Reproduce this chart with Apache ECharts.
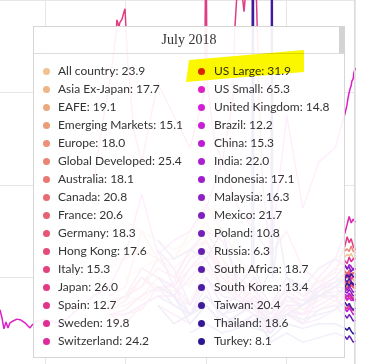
<!DOCTYPE html>
<html>
<head>
<meta charset="utf-8">
<script src="https://cdn.jsdelivr.net/npm/echarts@6/dist/echarts.min.js"></script>
<style>
html,body{margin:0;padding:0;background:#fff;overflow:hidden;}
#wrap{position:relative;width:380px;height:364px;overflow:hidden;}
#chart{position:absolute;left:-36px;top:-185px;width:416px;height:555px;}
</style>
</head>
<body>
<div id="wrap"><div id="chart"></div></div>
<script>
// ---- data (decimal years; July 2018 = 2018.5) ----
const years = [1988,1990,1992,1994,1996,1998,2000,2002,2004,2006,2008,2010,2012,2014,2016,2017.25,2017.5,2017.75,2018,2018.25,2018.5];

const names = ["All country","Asia Ex-Japan","EAFE","Emerging Markets","Europe","Global Developed","Australia","Canada","France","Germany","Hong Kong","Italy","Japan","Spain","Sweden","Switzerland","US Large","US Small","United Kingdom","Brazil","China","India","Indonesia","Malaysia","Mexico","Poland","Russia","South Africa","South Korea","Taiwan","Thailand","Turkey"];

const colors = ["#f2c18f","#f0b487","#eea880","#ed9c7a","#ec9077","#ea8474","#e97873","#e76c72","#e66173","#e45675","#e34c78","#e2437d","#e13b83","#e0348b","#df2e94","#de2a9f","#dd26ad","#dc20c6","#d41ed6","#c81ed6","#bb1ed3","#ad1ecf","#9e1fca","#8f20c4","#8020be","#7220b8","#6520b2","#581eab","#4b1ca4","#3f1a9d","#341896","#2a1890"];

const allCountry      = [22,24,26,24,24,28,35,30,24,20,14,18,16,19,22, 24.5,25.0,24.6,25.2,24.2,23.9];
const asiaExJapan     = [null,20,22,24,21,18,28,22,18,16,11,16,13,15,16, 17.5,18.2,17.8,18.6,18.0,17.7];
const eafe            = [30,32,30,28,26,28,32,26,22,18,12,16,15,17,19, 20.2,19.8,20.4,20.0,19.5,19.1];
const emergingMarkets = [null,null,null,20,18,15,22,16,15,14,9,14,12,13,14, 15.5,16.2,15.8,16.5,15.4,15.1];
const europe          = [14,16,15,18,17,22,26,20,17,14,9,14,13,16,18, 19.0,18.6,19.2,18.4,18.2,18.0];
const globalDeveloped = [24,24,26,24,24,30,36,30,24,20,14,18,16,20,24, 25.8,26.2,25.6,26.8,25.7,25.4];
const australia       = [14,16,20,18,17,19,22,20,18,16,11,15,14,17,20, 18.8,18.3,19.2,18.6,18.4,18.1];
const canada          = [16,18,30,24,22,25,30,24,20,17,12,18,16,19,22, 21.4,20.6,21.2,20.3,21.0,20.8];
const france          = [13,14,16,20,18,24,28,20,16,14,9,13,12,16,19, 21.2,20.8,21.6,20.7,21.0,20.6];
const germany         = [15,16,18,22,20,26,30,24,18,14,10,16,13,15,18, 19.2,18.6,19.4,18.6,18.8,18.3];
const hongKong        = [12,10,14,16,16,14,22,18,16,14,9,14,12,13,15, 17.2,18.0,17.5,18.4,17.8,17.6];
const italy           = [14,16,18,24,20,26,28,22,16,14,8,14,12,18,16, 15.8,15.0,16.2,15.4,15.6,15.3];
const japan           = [62,null,45,62,55,48,null,45,null,null,25,30,22,19,21, 27.0,28.8,27.5,28.4,26.8,26.0];
const spain           = [12,12,13,18,16,22,24,18,15,14,8,12,10,16,15, 13.6,13.2,14.0,13.0,12.9,12.7];
const sweden          = [14,16,22,20,18,22,26,20,16,14,10,16,14,18,19, 20.6,20.0,20.8,19.6,20.2,19.8];
const switzerland     = [12,13,16,18,18,24,26,22,18,15,11,15,14,18,22, 23.6,23.0,24.4,23.4,24.0,24.2];
const usLarge         = [13,15,20,17,19,26,30,28,20,17,14,17,15,20,24, 29.8,31.5,33.2,31.8,32.6,31.9];
const usSmall         = [18,25,38,25,28,30,35,45,35,30,25,55,35,45,48, 55.5,57.5,60.0,61.5,63.0,65.3];
const unitedKingdom   = [12,12,14,16,16,20,24,18,15,13,9,13,12,16,18, 15.8,15.2,15.6,15.0,15.2,14.8];
const brazil          = [null,null,null,14,12,10,14,10,9,11,8,12,12,14,16, 13.2,12.6,13.4,12.8,12.0,12.2];
const china           = [null,null,null,null,16,12,20,14,14,18,10,14,10,11,13, 16.4,15.8,16.6,16.0,15.0,15.3];
const india           = [null,null,null,26,18,14,20,14,16,20,14,20,16,18,20, 22.6,21.8,22.8,22.4,21.6,22.0];
const indonesia       = [null,null,null,20,18,12,18,10,12,15,10,16,14,18,18, 17.8,17.2,18.2,17.6,16.8,17.1];
const malaysia        = [null,null,null,26,22,14,20,16,15,15,12,16,15,16,17, 17.0,16.6,17.4,16.8,16.0,16.3];
const mexico          = [null,null,null,18,14,12,16,12,13,16,12,18,18,22,24, 22.6,21.8,22.4,21.2,22.0,21.7];
const poland          = [null,null,null,null,14,12,16,12,14,12,8,12,10,13,14, 11.8,11.2,12.0,11.4,10.6,10.8];
const russia          = [null,null,null,null,null,8,10,8,9,12,6,8,6,7,8, 7.2,6.6,7.4,6.8,6.0,6.3];
const southAfrica     = [null,null,null,16,14,12,14,10,12,14,10,14,14,17,19, 19.6,19.0,19.8,19.2,18.4,18.7];
const southKorea      = [null,null,null,18,16,12,14,10,10,12,10,12,11,12,13, 14.6,13.8,14.4,13.6,13.0,13.4];
const taiwan          = [null,null,null,28,24,26,24,30,18,null,null,20,18,16,18, 19.8,20.6,20.0,20.8,20.2,20.4];
const thailand        = [null,null,null,20,16,10,14,10,10,9,8,12,14,16,16, 18.0,18.8,18.2,19.0,18.4,18.6];
const turkey          = [null,null,null,14,10,12,16,12,10,10,7,10,9,10,10, 9.0,8.6,9.2,8.4,7.8,8.1];

// extra detail points [year, value]
const usSmallEarly = [[1970,17],[1971.5,19],[1973,15],[1974,12],[1974.42,13.0],[1974.67,11.2],[1974.91,8.9],[1975.16,10.4],[1975.41,9.1],[1975.66,10.2],[1976.03,10.6],[1976.53,11.0],[1977.02,10.8],[1977.52,10.2],[1977.89,9.5],[1978.14,9.1],[1978.39,9.7],[1978.88,10.4],[1980,11],[1982,10],[1984,13],[1986,16]];
const usSmallRecent = [[2017.33,56.2],[2017.42,56.8],[2017.58,58.5],[2017.67,59.3],[2017.83,60.6],[2017.92,61.0],[2018.08,62.4],[2018.17,62.8],[2018.33,64.2],[2018.42,63.8]];
const japanDetail = [[1986,40],[1987,52],[1988.5,68],[1988.85,73.5],[1988.93,75.7],[1989.18,74.2],[1989.31,75.2],[1989.43,74.9],[1989.55,75.8],[1989.7,76.2],[1989.8,77.4],[1989.93,78.1],[1990.05,74.0],[1990.3,66],[1991,52],[1999.8,60],[1999.98,95],[2000.12,62],[2001,50],[2003.3,58],[2003.57,74],[2003.85,82],[2004.2,88],[2004.55,80],[2004.7,77.5],[2004.85,80.5],[2005.1,86],[2005.7,92],[2006.25,80],[2006.55,60],[2007,40]];
const taiwanDetail = [[2005.67,22],[2005.8,150],[2005.93,22],[2007,18],[2008.05,22],[2008.16,140],[2008.27,20],[2009,30]];

const seriesValues = [allCountry,asiaExJapan,eafe,emergingMarkets,europe,globalDeveloped,australia,canada,france,germany,hongKong,italy,japan,spain,sweden,switzerland,usLarge,usSmall,unitedKingdom,brazil,china,india,indonesia,malaysia,mexico,poland,russia,southAfrica,southKorea,taiwan,thailand,turkey];
const extras = {"US Small": usSmallEarly.concat(usSmallRecent), "Japan": japanDetail, "Taiwan": taiwanDetail};
const tooltipTitle = "July 2018";
const highlighted = "US Large";

// the visible window is a crop of a larger chart: the chart box is offset by these amounts
const OFFSET_X = 36, OFFSET_Y = 185;

function buildData(vals, extra) {
  let pts = [];
  vals.forEach((v, i) => { if (v !== null) pts.push([years[i], v]); });
  if (extra) pts = pts.concat(extra);
  pts.sort((a, b) => a[0] - b[0]);
  return pts;
}

const seriesList = names.map((n, i) => ({
  name: n,
  type: 'line',
  data: buildData(seriesValues[i], extras[n]),
  showSymbol: false,
  symbol: 'none',
  connectNulls: true,
  lineStyle: { width: 1.5, color: colors[i] },
  itemStyle: { color: colors[i] },
  emphasis: { disabled: true },
  animation: false
}));

function tooltipHtml() {
  let h = '<div style="position:relative;width:310px;height:330px;font-family:Lato,sans-serif;color:#333;white-space:nowrap;">';
  h += '<div style="position:absolute;left:0;top:0;width:310px;height:26px;border-bottom:1px solid #dcdcdc;text-align:center;font-family:\'Liberation Serif\',serif;font-size:14px;line-height:26px;color:#333;">' + tooltipTitle + '</div>';
  h += '<div style="position:absolute;left:305px;top:0;width:6px;height:26px;background:#d3d3d3;"></div>';
  let hl = null;
  seriesList.forEach((s, i) => {
    const col = i < 16 ? 0 : 1;
    const row = i % 16;
    const cy = 44 + 18 * row;
    const dx = col === 0 ? 12 : 167;
    const tx = col === 0 ? 24 : 180;
    const last = s.data[s.data.length - 1][1];
    h += '<div style="position:absolute;left:' + (dx - 3.5) + 'px;top:' + (cy - 3.5) + 'px;width:7px;height:7px;border-radius:50%;background:' + colors[i] + ';"></div>';
    h += '<div style="position:absolute;left:' + tx + 'px;top:' + (cy - 9) + 'px;height:18px;line-height:18px;font-size:12px;">' + s.name + ': ' + last.toFixed(1) + '</div>';
    if (s.name === highlighted) hl = { x: dx - 15, y: cy - 21 };
  });
  if (hl) {
    h += '<div style="position:absolute;left:' + hl.x + 'px;top:' + hl.y + 'px;width:118px;height:33px;background:#fbf700;mix-blend-mode:multiply;clip-path:polygon(3px 10px,118px 0px,118px 22px,0px 32px);"></div>';
  }
  h += '</div>';
  return h;
}

const chart = echarts.init(document.getElementById('chart'), null, { renderer: 'canvas' });
chart.setOption({
  animation: false,
  grid: { left: 0.4, right: 24.8, top: 0, bottom: 0, containLabel: false },
  xAxis: {
    type: 'value', min: 1970, max: 2018.5, interval: 10,
    axisLine: { show: false }, axisTick: { show: false }, axisLabel: { show: false },
    splitLine: { show: true, lineStyle: { color: '#e6e6e6', width: 1 } }
  },
  yAxis: {
    type: 'value', min: 0, max: 120, interval: 20,
    axisLine: { show: false }, axisTick: { show: false }, axisLabel: { show: false },
    splitLine: { show: true, lineStyle: { color: '#e6e6e6', width: 1 } }
  },
  tooltip: {
    trigger: 'axis',
    triggerOn: 'none',
    alwaysShowContent: true,
    transitionDuration: 0,
    confine: false,
    position: [33 + OFFSET_X, 26 + OFFSET_Y],
    padding: 0,
    borderWidth: 1,
    borderColor: '#d6d6d6',
    backgroundColor: 'rgba(255,255,255,0.93)',
    extraCssText: 'box-shadow:none;border-radius:0;',
    axisPointer: { type: 'line', lineStyle: { color: '#dcdcdc', width: 1, type: 'solid' }, animation: false },
    formatter: function () { return tooltipHtml(); }
  },
  series: seriesList
});
chart.dispatchAction({ type: 'showTip', x: 390.5, y: 300 });
</script>
</body>
</html>
